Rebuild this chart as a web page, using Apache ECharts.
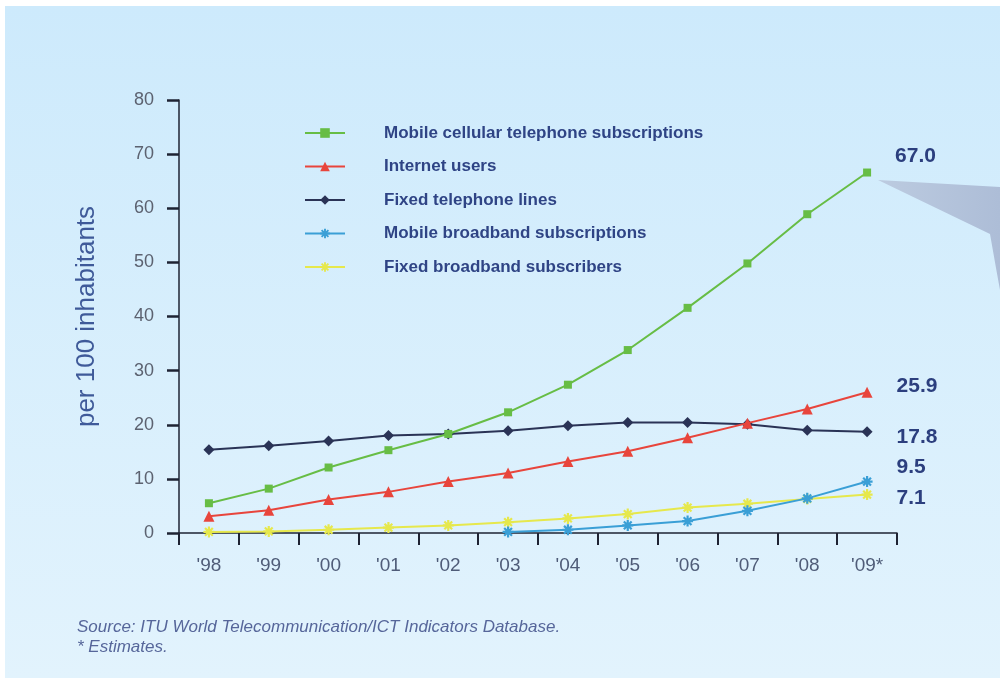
<!DOCTYPE html>
<html>
<head>
<meta charset="utf-8">
<script src="https://cdn.jsdelivr.net/npm/echarts@6/dist/echarts.min.js"></script>
<style>
html,body{margin:0;padding:0;background:#ffffff;}
#chart{width:1000px;height:678px;}
</style>
</head>
<body>
<div id="chart"></div>
<script>
// ---- data ----
const categories = ["'98","'99","'00","'01","'02","'03","'04","'05","'06","'07","'08","'09*"];
const mobileCellular = [5.5, 8.2, 12.1, 15.3, 18.3, 22.3, 27.4, 33.8, 41.6, 49.8, 58.9, 66.6];
const internetUsers = [3.1, 4.2, 6.2, 7.6, 9.5, 11.1, 13.2, 15.1, 17.6, 20.3, 22.9, 26.0];
const fixedTelephone = [15.4, 16.1, 17.0, 18.0, 18.3, 18.9, 19.8, 20.4, 20.4, 20.1, 19.0, 18.7];
const mobileBroadband = [null, null, null, null, null, 0.2, 0.6, 1.4, 2.2, 4.1, 6.4, 9.5];
const fixedBroadband = [0.2, 0.3, 0.6, 1.0, 1.4, 2.0, 2.7, 3.5, 4.7, 5.4, 6.3, 7.1];
const endLabels = ["67.0", "25.9", "17.8", "9.5", "7.1"];
const seriesNames = ["Mobile cellular telephone subscriptions", "Internet users", "Fixed telephone lines", "Mobile broadband subscriptions", "Fixed broadband subscribers"];
const yTicks = [0, 10, 20, 30, 40, 50, 60, 70, 80];

const asterisk = 'path://M-1,-5L1,-5L1,5L-1,5Z M-5,-1L5,-1L5,1L-5,1Z M4.25,2.83L2.83,4.25L-4.25,-2.83L-2.83,-4.25Z M-2.83,4.25L-4.25,2.83L2.83,-4.25L4.25,-2.83Z';
const FONT = 'Liberation Sans, Arial, sans-serif';

const chart = echarts.init(document.getElementById('chart'), null, {renderer: 'canvas'});

const labelColor = '#2c3f7e';
function lastLabel(data, text, offY) {
  return data.map((v, i) => {
    if (i !== data.length - 1) return v;
    return {
      value: v,
      label: {
        show: true, position: 'right', distance: 0, offset: [24, offY],
        formatter: text, color: labelColor, fontWeight: 'bold', fontSize: 21,
        fontFamily: FONT, align: 'left'
      }
    };
  });
}

function mkSeries(name, data, color, symbol, size, label, offY, z) {
  return {
    name: name, type: 'line', data: lastLabel(data, label, offY),
    symbol: symbol, symbolSize: size, showSymbol: true, connectNulls: false,
    lineStyle: {color: color, width: 2}, itemStyle: {color: color},
    z: z, animation: false, emphasis: {disabled: true}
  };
}

const option = {
  animation: false,
  backgroundColor: 'transparent',
  graphic: [
    {
      type: 'rect', z: -10, silent: true,
      shape: {x: 5, y: 6, width: 995, height: 672},
      style: {fill: new echarts.graphic.LinearGradient(0, 0, 0, 1, [
        {offset: 0, color: '#cdeafc'}, {offset: 1, color: '#e2f3fd'}
      ])}
    },
    {
      type: 'polygon', z: -5, silent: true,
      shape: {points: [[878, 180], [1000, 187], [1000, 290], [996, 268], [990, 234]]},
      style: {fill: new echarts.graphic.LinearGradient(0, 0, 1, 0, [
        {offset: 0, color: '#bccbe0'}, {offset: 1, color: '#adbdd7'}
      ])}
    },
    {
      type: 'text', left: 77, top: 619, silent: true,
      style: {text: 'Source: ITU World Telecommunication/ICT Indicators Database.', fill: '#56669a',
        font: 'italic 17px "Liberation Sans", Arial, sans-serif'}
    },
    {
      type: 'text', left: 77, top: 639, silent: true,
      style: {text: '* Estimates.', fill: '#56669a',
        font: 'italic 17px "Liberation Sans", Arial, sans-serif'}
    }
  ],
  grid: {left: 179, right: 103, top: 100, bottom: 145, containLabel: false},
  legend: {
    orient: 'vertical', left: 299, top: 118,
    itemWidth: 40, itemHeight: 12, itemGap: 13.5,
    selectedMode: false,
    textStyle: {color: '#2f4485', fontWeight: 'bold', fontSize: 17, lineHeight: 20,
      fontFamily: FONT, padding: [0, 0, 0, 34]},
    data: seriesNames
  },
  xAxis: {
    type: 'category', data: categories, boundaryGap: true,
    axisLine: {lineStyle: {color: '#1e2333', width: 1.5}},
    axisTick: {show: true, length: 12, alignWithLabel: false, lineStyle: {color: '#1e2333', width: 2}},
    axisLabel: {color: '#4f5c78', fontSize: 19, margin: 23, fontFamily: FONT},
    splitLine: {show: false}
  },
  yAxis: {
    type: 'value', min: 0, max: 80, interval: 10,
    name: 'per 100 inhabitants', nameLocation: 'middle', nameGap: 79, nameRotate: 90,
    nameTextStyle: {color: '#3f5a99', fontSize: 26, fontFamily: FONT},
    axisLine: {show: true, lineStyle: {color: '#1e2333', width: 1.5}},
    axisTick: {show: true, length: 12, lineStyle: {color: '#1e2333', width: 2.5}},
    axisLabel: {color: '#5c6270', fontSize: 18, margin: 25, fontFamily: FONT,
      formatter: v => yTicks.indexOf(v) >= 0 ? String(v) : ''},
    splitLine: {show: false}
  },
  series: [
    mkSeries(seriesNames[0], mobileCellular, '#67bd45', 'rect', 8, endLabels[0], -16, 5),
    mkSeries(seriesNames[1], internetUsers, '#e8453c', 'triangle', 11, endLabels[1], -6, 4),
    mkSeries(seriesNames[2], fixedTelephone, '#2a3356', 'diamond', 11, endLabels[2], 5, 3),
    mkSeries(seriesNames[3], mobileBroadband, '#3a9fd6', asterisk, 11, endLabels[3], -14, 2),
    mkSeries(seriesNames[4], fixedBroadband, '#e6e84c', asterisk, 11, endLabels[4], 4, 1)
  ]
};
chart.setOption(option);
</script>
</body>
</html>
